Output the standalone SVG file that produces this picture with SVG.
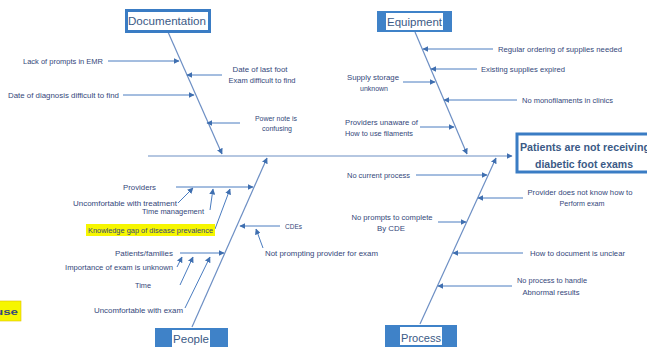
<svg xmlns="http://www.w3.org/2000/svg" width="647" height="347" viewBox="0 0 647 347">
<defs>
<marker id="ah" viewBox="0 0 10 10" refX="9" refY="5" markerWidth="6" markerHeight="6" markerUnits="userSpaceOnUse" orient="auto">
<path d="M0,0 L10,5 L0,10 z" fill="#3f6fb0"/>
</marker>
<style>
.t{font-family:"Liberation Sans",Arial,sans-serif;font-size:7px;fill:#34477a;}
.c{text-anchor:middle;}
.h{font-family:"Liberation Sans",Arial,sans-serif;font-size:11px;fill:#3b5a86;text-anchor:middle;}
.l{stroke:#4a7cc0;stroke-width:1;fill:none;marker-end:url(#ah);}
.b{stroke:#6d8fc4;stroke-width:1.2;fill:none;marker-end:url(#ah);}
.nb{fill:#3f82c8;}
</style>
</defs>
<rect width="647" height="347" fill="#ffffff"/>

<g id="connectors">
<line class="b" x1="148" y1="156" x2="512" y2="156"/>
<line class="b" x1="168" y1="32" x2="222" y2="154"/>
<line class="b" x1="415" y1="32" x2="467" y2="154"/>
<line class="b" x1="192" y1="327" x2="267" y2="158"/>
<line class="b" x1="420" y1="324" x2="496" y2="158"/>
<line class="l" x1="108" y1="61" x2="179" y2="61"/>
<line class="l" x1="222" y1="75" x2="187" y2="75"/>
<line class="l" x1="123" y1="95" x2="194" y2="95"/>
<line class="l" x1="240" y1="123" x2="207" y2="123"/>
<line class="l" x1="493" y1="49" x2="423" y2="49"/>
<line class="l" x1="477" y1="69" x2="431" y2="69"/>
<line class="l" x1="403" y1="82" x2="435" y2="82"/>
<line class="l" x1="517" y1="100" x2="444" y2="100"/>
<line class="l" x1="420" y1="127" x2="454" y2="127"/>
<line class="l" x1="416" y1="175" x2="487" y2="175"/>
<line class="l" x1="523" y1="198" x2="478" y2="198"/>
<line class="l" x1="438" y1="222" x2="466" y2="222"/>
<line class="l" x1="523" y1="253" x2="453" y2="253"/>
<line class="l" x1="512" y1="286" x2="438" y2="286"/>
<line class="l" x1="176" y1="187" x2="253" y2="187"/>
<line class="l" x1="178" y1="203" x2="193" y2="188"/>
<line class="l" x1="210" y1="210" x2="213" y2="189"/>
<line class="l" x1="215" y1="229" x2="230" y2="189"/>
<line class="l" x1="280" y1="226" x2="240" y2="226"/>
<line class="l" x1="263" y1="248" x2="256" y2="229"/>
<line class="l" x1="180" y1="253" x2="224" y2="253"/>
<line class="l" x1="177" y1="267" x2="182" y2="257"/>
<line class="l" x1="180" y1="285" x2="193" y2="257"/>
<line class="l" x1="185" y1="308" x2="210" y2="257"/>
</g>

<g id="documentation">
<rect x="126.5" y="10.5" width="83" height="21" fill="#ffffff" stroke="#3a7cc4" stroke-width="3"/>
<text class="h" x="167" y="25" textLength="78" lengthAdjust="spacingAndGlyphs">Documentation</text>
</g>
<g id="equipment">
<rect class="nb" x="377" y="11" width="75" height="21"/>
<rect x="386" y="13" width="57" height="17" fill="#ffffff"/>
<text class="h" x="414.5" y="26" textLength="55" lengthAdjust="spacingAndGlyphs">Equipment</text>
</g>
<g id="people">
<rect class="nb" x="155" y="328" width="73" height="22"/>
<rect x="172" y="330" width="38" height="17" fill="#ffffff"/>
<text class="h" x="191" y="343" textLength="36" lengthAdjust="spacingAndGlyphs">People</text>
</g>
<g id="process">
<rect class="nb" x="385" y="325" width="72" height="25"/>
<rect x="400" y="327" width="42" height="18" fill="#ffffff"/>
<text class="h" x="421" y="342" textLength="40" lengthAdjust="spacingAndGlyphs">Process</text>
</g>
<g id="effect">
<rect x="517" y="134" width="140" height="38" fill="#ffffff" stroke="#3a7cc4" stroke-width="3"/>
<text x="520" y="151" font-family="Liberation Sans,Arial,sans-serif" font-size="10.5" font-weight="bold" fill="#3b5a86" textLength="130" lengthAdjust="spacingAndGlyphs">Patients are not receiving</text>
<text x="584" y="168" font-family="Liberation Sans,Arial,sans-serif" font-size="10.5" font-weight="bold" fill="#3b5a86" text-anchor="middle" textLength="98" lengthAdjust="spacingAndGlyphs">diabetic foot exams</text>
</g>

<g id="doc-causes">
<text class="t" x="23" y="64" textLength="80" lengthAdjust="spacingAndGlyphs">Lack of prompts in EMR</text>
<text class="t c" x="260" y="72" textLength="55" lengthAdjust="spacingAndGlyphs">Date of last foot</text>
<text class="t c" x="262" y="83" textLength="67" lengthAdjust="spacingAndGlyphs">Exam difficult to find</text>
<text class="t" x="8" y="98" textLength="111" lengthAdjust="spacingAndGlyphs">Date of diagnosis difficult to find</text>
<text class="t c" x="276" y="121" textLength="42" lengthAdjust="spacingAndGlyphs">Power note is</text>
<text class="t c" x="277" y="131" textLength="30" lengthAdjust="spacingAndGlyphs">confusing</text>
</g>
<g id="equip-causes">
<text class="t" x="498" y="52" textLength="124" lengthAdjust="spacingAndGlyphs">Regular ordering of supplies needed</text>
<text class="t" x="481" y="72" textLength="84" lengthAdjust="spacingAndGlyphs">Existing supplies expired</text>
<text class="t c" x="373" y="80" textLength="52" lengthAdjust="spacingAndGlyphs">Supply storage</text>
<text class="t c" x="374" y="91" textLength="28" lengthAdjust="spacingAndGlyphs">unknown</text>
<text class="t" x="522" y="103" textLength="91" lengthAdjust="spacingAndGlyphs">No monofilaments in clinics</text>
<text class="t" x="345" y="125" textLength="73" lengthAdjust="spacingAndGlyphs">Providers unaware of</text>
<text class="t" x="345" y="136" textLength="68" lengthAdjust="spacingAndGlyphs">How to use filaments</text>
</g>
<g id="process-causes">
<text class="t" x="347" y="178" textLength="63" lengthAdjust="spacingAndGlyphs">No current process</text>
<text class="t c" x="580" y="195" textLength="105" lengthAdjust="spacingAndGlyphs">Provider does not know how to</text>
<text class="t c" x="582" y="206" textLength="45" lengthAdjust="spacingAndGlyphs">Perform exam</text>
<text class="t c" x="392" y="220" textLength="81" lengthAdjust="spacingAndGlyphs">No prompts to complete</text>
<text class="t c" x="391" y="231" textLength="28" lengthAdjust="spacingAndGlyphs">By CDE</text>
<text class="t" x="530" y="256" textLength="95" lengthAdjust="spacingAndGlyphs">How to document is unclear</text>
<text class="t c" x="552" y="283" textLength="70" lengthAdjust="spacingAndGlyphs">No process to handle</text>
<text class="t c" x="551" y="295" textLength="57" lengthAdjust="spacingAndGlyphs">Abnormal results</text>
</g>
<g id="people-causes">
<text class="t" x="123" y="190" textLength="33" lengthAdjust="spacingAndGlyphs">Providers</text>
<text class="t" x="73" y="206" textLength="104" lengthAdjust="spacingAndGlyphs">Uncomfortable with treatment</text>
<text class="t" x="142" y="214" textLength="62" lengthAdjust="spacingAndGlyphs">Time management</text>
<rect x="86" y="224" width="129" height="12" fill="#f6f600"/>
<text class="t" x="88" y="233" textLength="125" lengthAdjust="spacingAndGlyphs">Knowledge gap of disease prevalence</text>
<text class="t" x="285" y="229" textLength="17" lengthAdjust="spacingAndGlyphs">CDEs</text>
<text class="t" x="265" y="256" textLength="113" lengthAdjust="spacingAndGlyphs">Not prompting provider for exam</text>
<text class="t" x="115" y="256" textLength="58" lengthAdjust="spacingAndGlyphs">Patients/families</text>
<text class="t" x="65" y="270" textLength="108" lengthAdjust="spacingAndGlyphs">Importance of exam is unknown</text>
<text class="t" x="135" y="288" textLength="16" lengthAdjust="spacingAndGlyphs">Time</text>
<text class="t" x="94" y="313" textLength="89" lengthAdjust="spacingAndGlyphs">Uncomfortable with exam</text>
</g>
<g id="fragment">
<rect x="-2" y="301" width="23" height="20" fill="#f6f600" stroke="#e0c000" stroke-width="0.6"/>
<text x="-5" y="315" font-family="Liberation Sans,Arial,sans-serif" font-size="9" font-weight="bold" fill="#34477a" textLength="23" lengthAdjust="spacingAndGlyphs">use</text>
</g>
</svg>
